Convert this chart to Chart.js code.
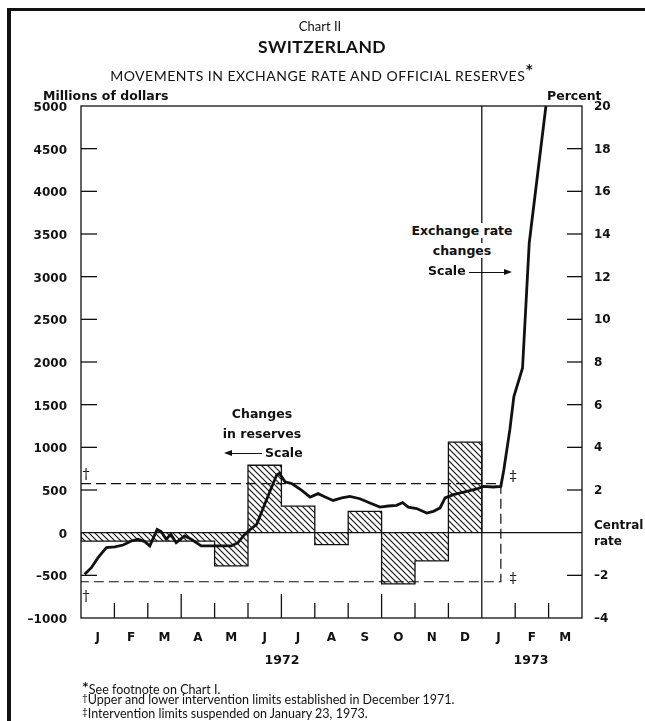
<!DOCTYPE html>
<html>
<head>
<meta charset="utf-8">
<title>Switzerland - exchange rate and official reserves</title>
<script src="https://cdn.jsdelivr.net/npm/chart.js@4.4.0/dist/chart.umd.min.js"></script>
<style>
  html, body { margin: 0; padding: 0; background: #fff; }
  #wrap { position: relative; width: 645px; height: 721px; overflow: hidden; font-family: Lato, "DejaVu Sans", sans-serif; color: #111; }
  #frame { position: absolute; left: 7px; top: 8px; width: 700px; height: 800px; border-left: 4px solid #111; border-top: 3px solid #111; }
  canvas { position: absolute; left: 0; top: 0; }
  .t { position: absolute; white-space: nowrap; line-height: 1; }
  .c { transform: translateX(-50%); }
  .b { font-weight: bold; }
  .dv { font-family: "DejaVu Sans", sans-serif; font-weight: bold; }
  .arrow { position: absolute; height: 0; border-top: 1.5px solid #111; }
  .arrow.l::before { content: ""; position: absolute; left: -2px; top: -4.5px; border-right: 8px solid #111; border-top: 3.5px solid transparent; border-bottom: 3.5px solid transparent; }
  .arrow.r::after { content: ""; position: absolute; right: -2px; top: -4.5px; border-left: 8px solid #111; border-top: 3.5px solid transparent; border-bottom: 3.5px solid transparent; }
  .wb { background: #fff; padding: 0 1px; }
</style>
</head>
<body>
<div id="wrap">
  <canvas id="myChart" width="645" height="721"></canvas>
  <div id="frame"></div>

  <div class="t c" style="left:320px; top:20px; font-size:13px;">Chart II</div>
  <div class="t c b" style="left:322px; top:38px; font-size:17.5px; letter-spacing:0.4px;">SWITZERLAND</div>
  <div class="t c" style="left:322px; top:64px; font-size:14px; letter-spacing:0.5px;">MOVEMENTS IN EXCHANGE RATE AND OFFICIAL RESERVES<span style="font-size:19px; font-weight:bold; position:relative; top:-3px;">*</span></div>
  <div class="t dv" style="left:43px; top:90px; font-size:12.5px;">Millions of dollars</div>
  <div class="t dv" style="left:547px; top:90px; font-size:12.5px;">Percent</div>

  <div class="t c dv" style="left:262px; top:408px; font-size:12.5px;">Changes</div>
  <div class="t c dv" style="left:262px; top:428px; font-size:12.5px;">in reserves</div>
  <div class="arrow l" style="left:226px; top:453px; width:36px;"></div>
  <div class="t dv" style="left:265px; top:447px; font-size:12.5px;">Scale</div>

  <div class="t c dv" style="left:462px; top:225px; font-size:12.5px;"><span class="wb">Exchange rate</span></div>
  <div class="t c dv" style="left:462px; top:245px; font-size:12.5px;"><span class="wb">changes</span></div>
  <div class="t dv" style="left:428px; top:265px; font-size:12.5px;">Scale</div>
  <div class="arrow r" style="left:469px; top:272px; width:41px;"></div>

  <div class="t" style="left:82px; top:466px; font-size:14px;">&dagger;</div>
  <div class="t" style="left:82px; top:588px; font-size:14px;">&dagger;</div>
  <div class="t" style="left:509px; top:468px; font-size:14px;">&Dagger;</div>
  <div class="t" style="left:509px; top:570px; font-size:14px;">&Dagger;</div>

  <div class="t c dv" style="left:282px; top:654px; font-size:12.5px;">1972</div>
  <div class="t c dv" style="left:531px; top:654px; font-size:12.5px;">1973</div>

  <div class="t" style="left:82px; top:680px; font-size:12.5px;"><span style="font-size:16px; font-weight:bold; position:relative; top:-1px;">*</span>See footnote on Chart I.</div>
  <div class="t" style="left:82px; top:694px; font-size:12.5px;"><span style="font-size:10px; position:relative; top:-3px;">&dagger;</span>Upper and lower intervention limits established in December 1971.</div>
  <div class="t" style="left:82px; top:708px; font-size:12.5px;"><span style="font-size:10px; position:relative; top:-3px;">&Dagger;</span>Intervention limits suspended on January 23, 1973.</div>
</div>

<script>
// month letters, Jan 1972 - Mar 1973
const months = ["J", "F", "M", "A", "M", "J", "J", "A", "S", "O", "N", "D", "J", "F", "M"];

// monthly changes in reserves, millions of dollars, Jan-Dec 1972
const reserveChanges = [-100, -100, -100, -100, -390, 790, 310, -140, 250, -600, -330, 1060];

// exchange rate vs central rate, percent (position in months from Jan 1 1972)
const rateMonth = [0.11, 0.31, 0.51, 0.76, 1.01, 1.26, 1.51, 1.71, 1.91, 2.06,
  2.28, 2.40, 2.55, 2.69, 2.85, 3.10, 3.30, 3.60, 3.90, 4.20,
  4.50, 4.70, 4.90, 5.01, 5.26, 5.46, 5.66, 5.86, 5.94, 6.11,
  6.31, 6.61, 6.86, 7.10, 7.31, 7.55, 7.81, 8.05, 8.35, 8.65,
  8.95, 9.20, 9.45, 9.63, 9.80, 10.05, 10.35, 10.55, 10.75, 10.90,
  11.15, 11.55, 11.85, 12.05, 12.34, 12.57, 12.66, 12.84, 12.96, 13.22,
  13.42, 13.92];
const ratePct = [-1.95, -1.64, -1.17, -0.70, -0.67, -0.58, -0.39, -0.31, -0.42, -0.62,
  0.15, 0.05, -0.31, -0.08, -0.47, -0.15, -0.31, -0.62, -0.62, -0.62,
  -0.62, -0.47, -0.08, 0.08, 0.39, 1.17, 1.95, 2.70, 2.78, 2.38,
  2.30, 1.98, 1.67, 1.83, 1.67, 1.51, 1.63, 1.70, 1.59, 1.39,
  1.20, 1.25, 1.28, 1.41, 1.20, 1.13, 0.92, 1.00, 1.16, 1.63,
  1.78, 1.94, 2.05, 2.17, 2.14, 2.17, 2.95, 4.83, 6.38, 7.72,
  13.58, 20.0];

// intervention limits (percent) and the month they were dropped
const bandLimit = 2.3;
const bandEnd = 12.57;

// axis ranges
const leftMin = -1000, leftMax = 5000, leftStep = 500;
const rightMin = -4, rightMax = 20, rightStep = 2;

function dash(v) {
  return v < 0 ? "\u2013" + Math.abs(v) : String(v);
}

// hatching for the reserves bars
function makeHatch() {
  const s = 6;
  const c = document.createElement("canvas");
  c.width = s;
  c.height = s;
  const g = c.getContext("2d");
  g.strokeStyle = "#111";
  g.lineWidth = 1.1;
  g.beginPath();
  g.moveTo(0, 0); g.lineTo(s, s);
  g.moveTo(-1, s - 1); g.lineTo(1, s + 1);
  g.moveTo(s - 1, -1); g.lineTo(s + 1, 1);
  g.stroke();
  return g.createPattern(c, "repeat");
}

// stepped outline of the monthly bars
const reservePoints = [{ x: 0, y: 0 }];
reserveChanges.forEach((v, i) => reservePoints.push({ x: i, y: v }));
reservePoints.push({ x: reserveChanges.length, y: reserveChanges[reserveChanges.length - 1] });
reservePoints.push({ x: reserveChanges.length, y: 0 });

const ratePoints = rateMonth.map((m, i) => ({ x: m, y: ratePct[i] }));

const bandPoints = [
  { x: 0, y: bandLimit }, { x: bandEnd, y: bandLimit },
  { x: bandEnd, y: -bandLimit }, { x: 0, y: -bandLimit }
];

// frame, inside ticks and the Jan 1973 divider
const framePlugin = {
  id: "frame",
  afterDatasetsDraw(chart) {
    const { ctx, chartArea: a, scales } = chart;
    const x = scales.x, yL = scales.yL, yR = scales.yR;
    function seg(x1, y1, x2, y2) {
      ctx.beginPath();
      ctx.moveTo(x1, y1);
      ctx.lineTo(x2, y2);
      ctx.stroke();
    }
    ctx.save();
    ctx.strokeStyle = "#111";
    ctx.lineWidth = 1.3;
    ctx.strokeRect(a.left, a.top, a.right - a.left, a.bottom - a.top);

    let xj = x.getPixelForValue(12);
    seg(xj, a.top, xj, a.bottom);

    yL.ticks.forEach((t) => {
      if (t.value === 0 || t.value === leftMin || t.value === leftMax) return;
      let y = yL.getPixelForValue(t.value);
      seg(a.left, y, a.left + 16, y);
    });
    yR.ticks.forEach((t) => {
      if (t.value === 0 || t.value === rightMin || t.value === rightMax) return;
      let y = yR.getPixelForValue(t.value);
      seg(a.right - 15, y, a.right, y);
    });
    for (let m = 1; m < months.length; m++) {
      if (m === 12) continue;
      let px = x.getPixelForValue(m);
      let h = m % 3 === 0 ? 24 : 15;
      seg(px, a.bottom, px, a.bottom - h);
    }
    ctx.restore();
  }
};

const tickFont = { family: "'DejaVu Sans', sans-serif", size: 12, weight: "bold", lineHeight: 1.35 };

const ctx = document.getElementById("myChart").getContext("2d");

const config = {
  type: "line",
  data: {
    datasets: [
      {
        label: "Exchange rate",
        data: ratePoints,
        yAxisID: "yR",
        borderColor: "#111",
        borderWidth: 2.8,
        pointRadius: 0,
        tension: 0,
        fill: false,
        order: 0,
      },
      {
        label: "Changes in reserves",
        data: reservePoints,
        yAxisID: "yL",
        stepped: true,
        borderColor: "#111",
        borderWidth: 1.3,
        backgroundColor: makeHatch(),
        pointRadius: 0,
        fill: "origin",
        order: 2,
      },
      {
        label: "Intervention limits",
        data: bandPoints,
        yAxisID: "yR",
        borderColor: "#111",
        borderWidth: 1.2,
        borderDash: [10, 5],
        pointRadius: 0,
        fill: false,
        order: 1,
      },
      {
        label: "Central rate",
        data: [{ x: 0, y: 0 }, { x: months.length, y: 0 }],
        yAxisID: "yR",
        borderColor: "#111",
        borderWidth: 1.2,
        pointRadius: 0,
        fill: false,
        order: 1,
      },
    ],
  },
  options: {
    responsive: false,
    animation: false,
    layout: { padding: { top: 106, bottom: 0, left: 0, right: 0 } },
    plugins: {
      legend: { display: false },
      tooltip: { enabled: false },
    },
    scales: {
      x: {
        type: "linear",
        min: 0,
        max: months.length,
        grid: { display: false },
        border: { display: false },
        afterBuildTicks: (scale) => {
          scale.ticks = months.map((m, i) => ({ value: i + 0.5 }));
        },
        afterFit: (scale) => { scale.height = 103; },
        ticks: {
          autoSkip: false,
          maxRotation: 0,
          padding: 4,
          color: "#111",
          font: tickFont,
          callback: (v, i) => months[i],
        },
      },
      yL: {
        type: "linear",
        position: "left",
        min: leftMin,
        max: leftMax,
        grid: { display: false },
        border: { display: false },
        afterFit: (scale) => { scale.width = 81; },
        ticks: {
          stepSize: leftStep,
          padding: 6,
          labelOffset: 2,
          color: "#111",
          font: tickFont,
          callback: (v) => dash(v),
        },
      },
      yR: {
        type: "linear",
        position: "right",
        min: rightMin,
        max: rightMax,
        grid: { display: false },
        border: { display: false },
        afterFit: (scale) => { scale.width = 63; },
        ticks: {
          stepSize: rightStep,
          padding: 4,
          labelOffset: 1,
          color: "#111",
          font: tickFont,
          callback: (v) => (v === 0 ? ["Central", "rate"] : dash(v)),
        },
      },
    },
  },
  plugins: [framePlugin],
};

const myChart = new Chart(ctx, config);
</script>
</body>
</html>
